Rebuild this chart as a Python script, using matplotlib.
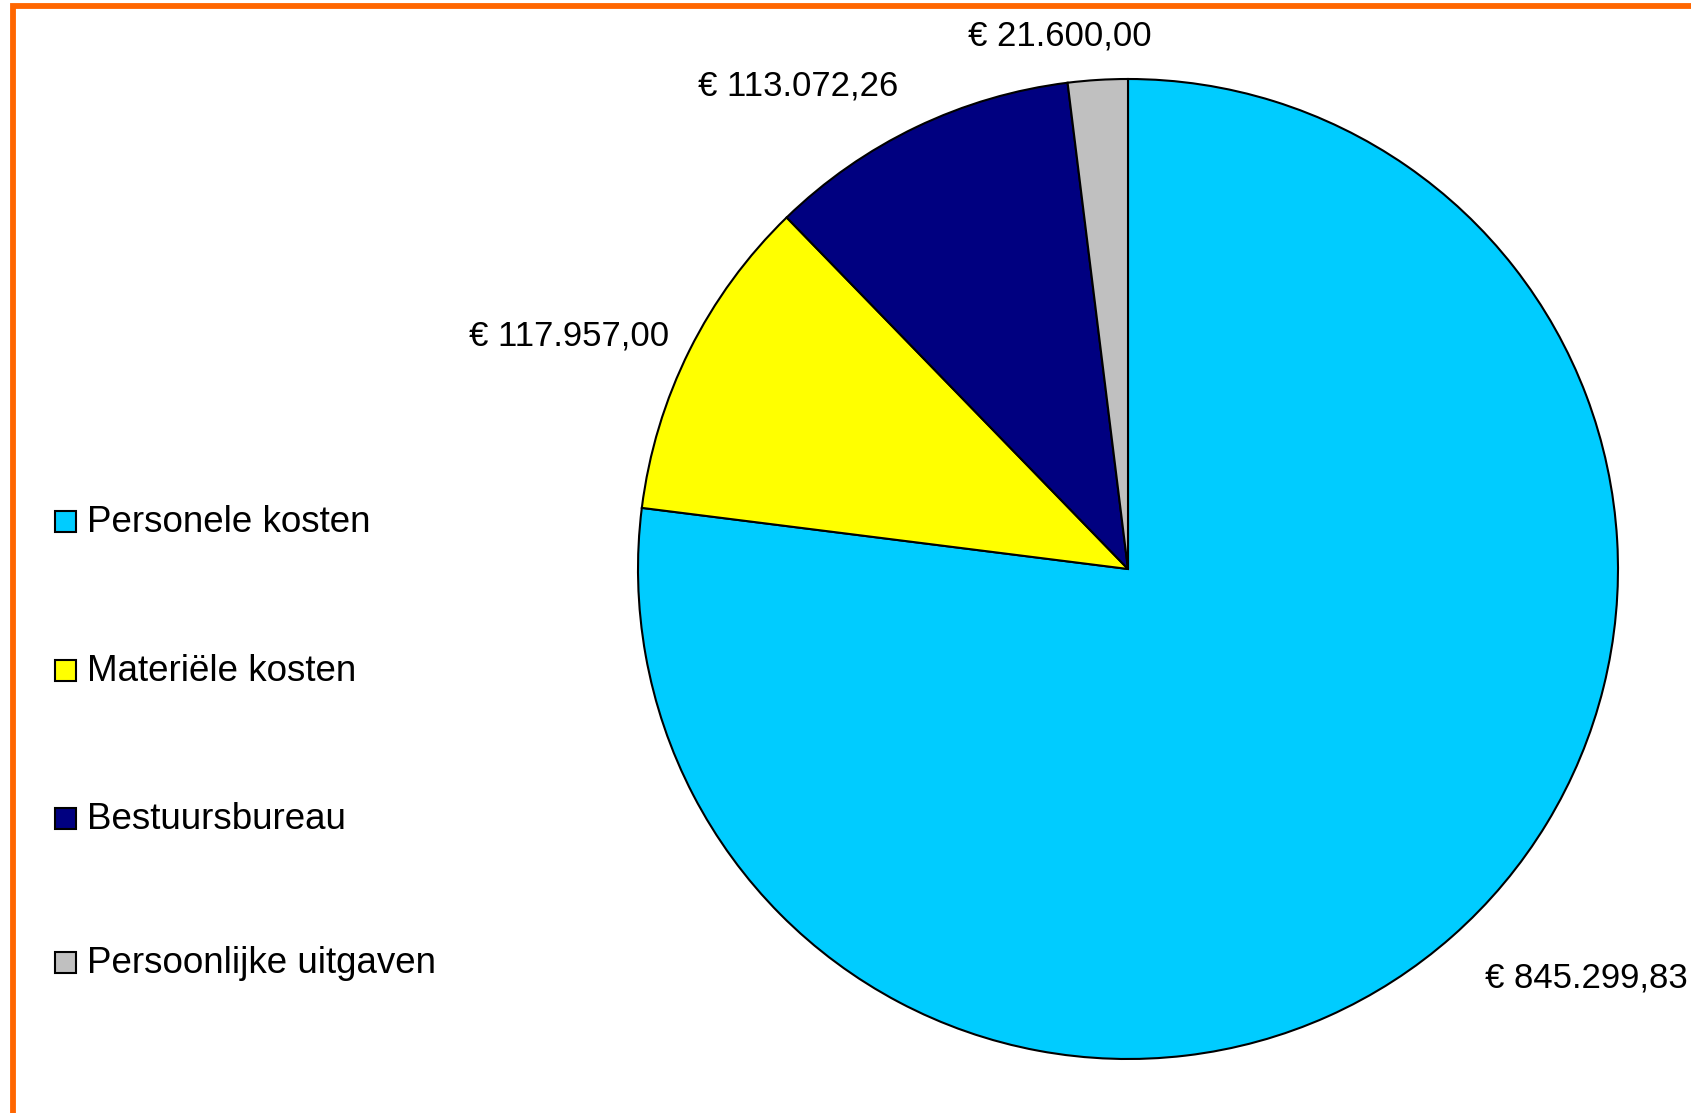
import matplotlib
matplotlib.use("Agg")
import matplotlib.pyplot as plt
from matplotlib.patches import Rectangle

plt.rcParams['font.family'] = ['Liberation Sans', 'DejaVu Sans']

categories = ["Personele kosten", "Materiële kosten", "Bestuursbureau", "Persoonlijke uitgaven"]
values = [845299.83, 117957.00, 113072.26, 21600.00]
value_labels = ["€ 845.299,83", "€ 117.957,00", "€ 113.072,26", "€ 21.600,00"]
colors = ["#00CCFF", "#FFFF00", "#000080", "#C0C0C0"]

W, H = 1691, 1113
fig = plt.figure(figsize=(W / 100, H / 100), dpi=100)
fig.patch.set_facecolor("white")

# pie axes: centre (1128, 569) px, radius 490 px
cx, cy, r = 1128, 569, 490
ax = fig.add_axes([(cx - r) / W, (H - cy - r) / H, 2 * r / W, 2 * r / H])
ax.pie(values, colors=colors, startangle=90, counterclock=False,
       wedgeprops=dict(edgecolor="black", linewidth=1.5), radius=1.0)
ax.set_xlim(-1, 1)
ax.set_ylim(-1, 1)
ax.set_aspect("equal")
ax.axis("off")

fs_lab = 25
fs_leg = 26.5
# value labels (pixel positions: centre x, baseline y)
label_pos = [(1586, 987), (569, 346), (798, 95), (1060, 45)]
for txt, (px, py) in zip(value_labels, label_pos):
    fig.text(px / W, 1 - py / H, txt, ha="center", va="baseline", fontsize=fs_lab, color="black")

# legend
leg_base = [532, 681, 829, 973]
sq = 21
for name, col, b in zip(categories, colors, leg_base):
    fig.patches.append(Rectangle((55 / W, 1 - b / H), sq / W, sq / H, transform=fig.transFigure,
                                 facecolor=col, edgecolor="black", linewidth=1.5))
    fig.text(87 / W, 1 - b / H, name, ha="left", va="baseline", fontsize=fs_leg, color="black")

# orange frame
fig.patches.append(Rectangle((12.5 / W, 1 - 1116 / H), 1700 / W, (1116 - 6) / H,
                             transform=fig.transFigure, facecolor="none",
                             edgecolor="#FF6600", linewidth=4.2))

fig.savefig("out.png", dpi=100, facecolor="white")
